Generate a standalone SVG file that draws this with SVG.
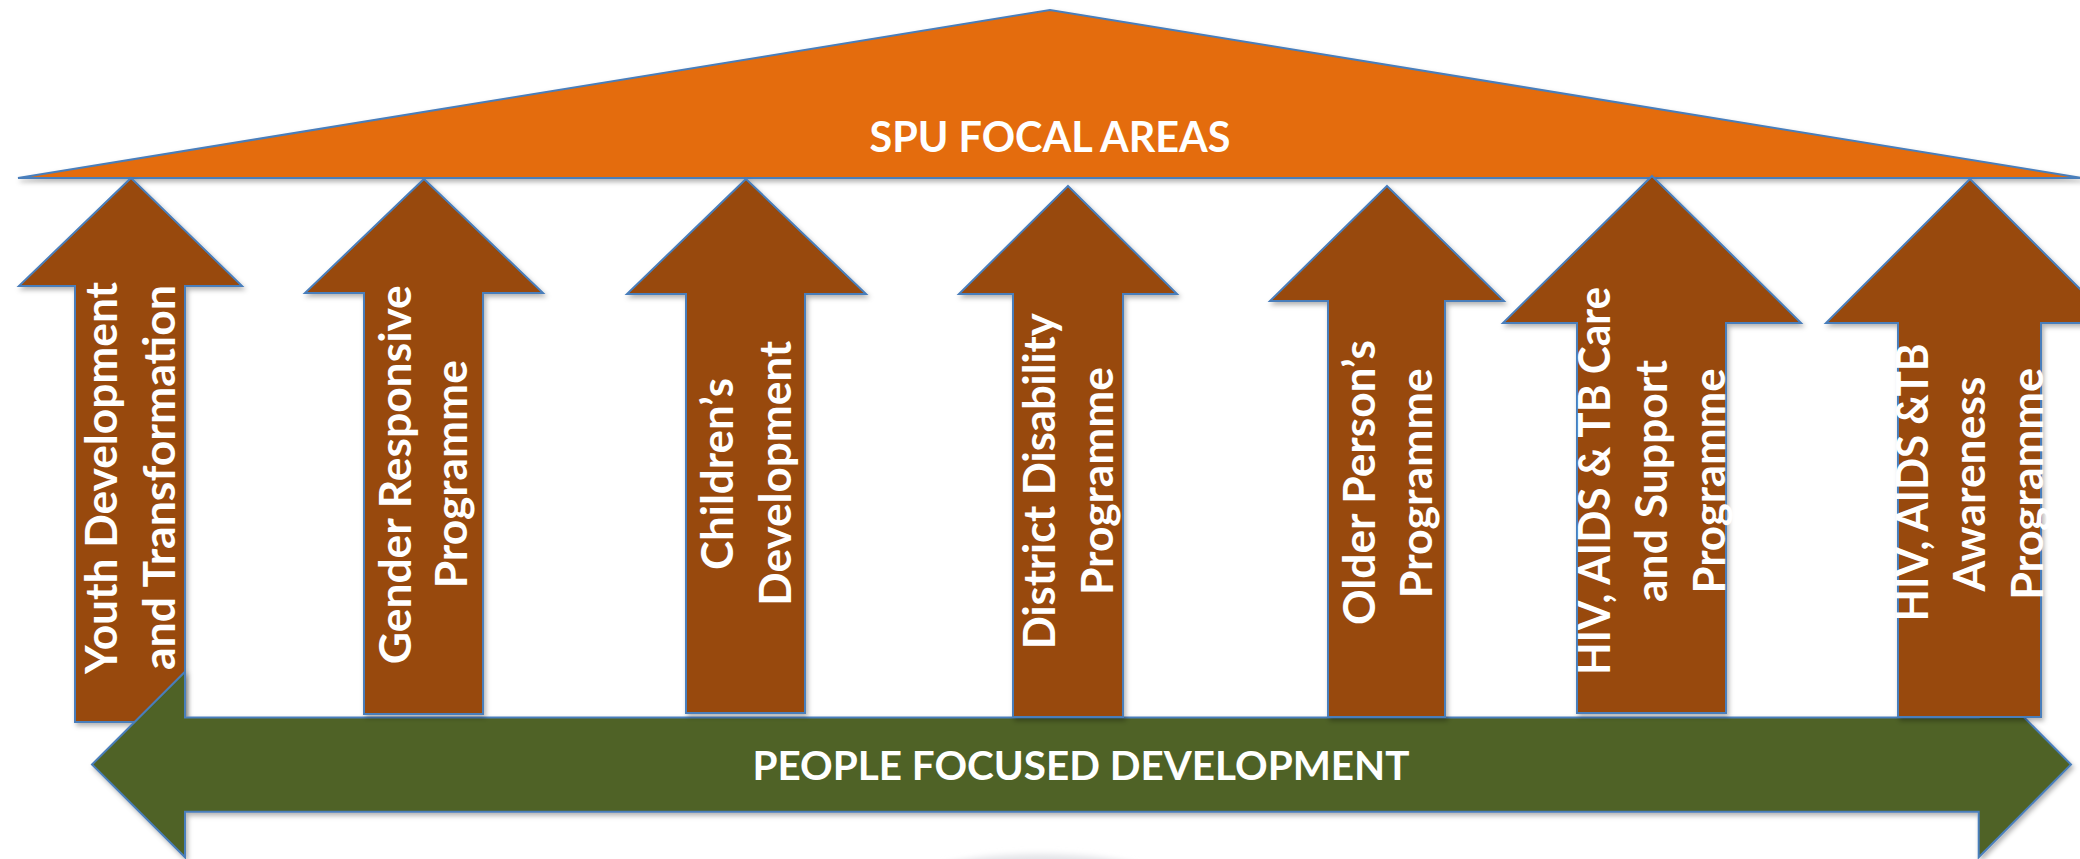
<svg xmlns="http://www.w3.org/2000/svg" width="2080" height="859" viewBox="0 0 2080 859">
<defs>
<filter id="shadow" x="-10%" y="-10%" width="130%" height="130%">
<feDropShadow dx="2" dy="3" stdDeviation="2.5" flood-color="#000" flood-opacity="0.3"/>
</filter>
<filter id="blur" x="-20%" y="-50%" width="140%" height="200%">
<feGaussianBlur stdDeviation="3"/>
</filter>
<style>
.arrow{fill:#984807;stroke:#4A7EBB;stroke-width:2;stroke-linejoin:miter;filter:url(#shadow)}
.roof{fill:#E46C0A;stroke:#4A7EBB;stroke-width:2;filter:url(#shadow)}
.base{fill:#4F6228;stroke:#4A7EBB;stroke-width:2;filter:url(#shadow)}
.lbl{font-family:Lato,"Liberation Sans",sans-serif;font-weight:700;fill:#ffffff;font-size:43px;text-anchor:middle}
.title{font-family:Lato,"Liberation Sans",sans-serif;font-weight:700;fill:#ffffff;text-anchor:middle}
</style>
</defs>
<rect x="0" y="0" width="2080" height="859" fill="#ffffff"/>
<ellipse cx="1040" cy="888" rx="135" ry="34" fill="#e3e4e8" filter="url(#blur)"/>

<g id="spu-focal-areas">
<path class="roof" d="M18,178 L1050,10 L2082,178 Z"/>
<text class="title" x="1050" y="152" font-size="42" textLength="361" lengthAdjust="spacingAndGlyphs">SPU FOCAL AREAS</text>
</g>

<g id="youth-development">
<path class="arrow" d="M131,178 L242,286 L185,286 L185,722 L75,722 L75,286 L19,286 Z"/>
<text class="lbl" transform="translate(117.3,478) rotate(-90)" textLength="392" lengthAdjust="spacingAndGlyphs">Youth Development</text>
<text class="lbl" transform="translate(175,477.5) rotate(-90)" textLength="385" lengthAdjust="spacingAndGlyphs">and Transformation</text>
</g>

<g id="people-focused-development">
<path class="base" d="M92,764.5 L185,671.7 L185,717.5 L1978.7,717.5 L1978.7,671.7 L2071,764.5 L1978.7,857.3 L1978.7,811.7 L185,811.7 L185,857.3 Z"/>
<text class="title" x="1081" y="780" font-size="40" textLength="657" lengthAdjust="spacingAndGlyphs">PEOPLE FOCUSED DEVELOPMENT</text>
</g>

<g id="gender-responsive">
<path class="arrow" d="M424,179 L543,293 L483,293 L483,714 L364,714 L364,293 L305,293 Z"/>
<text class="lbl" transform="translate(410.5,474.7) rotate(-90)" textLength="379" lengthAdjust="spacingAndGlyphs">Gender Responsive</text>
<text class="lbl" transform="translate(467.3,474.2) rotate(-90)" textLength="228" lengthAdjust="spacingAndGlyphs">Programme</text>
</g>

<g id="childrens-development">
<path class="arrow" d="M746,179 L866,294 L805,294 L805,713 L686,713 L686,294 L627,294 Z"/>
<text class="lbl" transform="translate(732.7,474) rotate(-90)" textLength="192" lengthAdjust="spacingAndGlyphs">Children’s</text>
<text class="lbl" transform="translate(790.7,473.3) rotate(-90)" textLength="265" lengthAdjust="spacingAndGlyphs">Development</text>
</g>

<g id="district-disability">
<path class="arrow" d="M1068,186 L1177,294 L1123,294 L1123,717 L1013,717 L1013,294 L959,294 Z"/>
<text class="lbl" transform="translate(1055,481.3) rotate(-90)" textLength="336" lengthAdjust="spacingAndGlyphs">District Disability</text>
<text class="lbl" transform="translate(1113.3,481) rotate(-90)" textLength="228" lengthAdjust="spacingAndGlyphs">Programme</text>
</g>

<g id="older-persons">
<path class="arrow" d="M1387,186 L1504,301 L1445,301 L1445,717 L1328,717 L1328,301 L1270,301 Z"/>
<text class="lbl" transform="translate(1375,482.5) rotate(-90)" textLength="285" lengthAdjust="spacingAndGlyphs">Older Person’s</text>
<text class="lbl" transform="translate(1431.7,483.3) rotate(-90)" textLength="230" lengthAdjust="spacingAndGlyphs">Programme</text>
</g>

<g id="hiv-aids-tb-care">
<path class="arrow" d="M1652,176 L1801,323 L1726,323 L1726,713 L1577,713 L1577,323 L1503,323 Z"/>
<text class="lbl" transform="translate(1610,481) rotate(-90)" textLength="388" lengthAdjust="spacingAndGlyphs">HIV, AIDS &amp; TB Care</text>
<text class="lbl" transform="translate(1667.3,481) rotate(-90)" textLength="242" lengthAdjust="spacingAndGlyphs">and Support</text>
<text class="lbl" transform="translate(1725,481) rotate(-90)" textLength="225" lengthAdjust="spacingAndGlyphs">Programme</text>
</g>

<g id="hiv-aids-tb-awareness">
<path class="arrow" d="M1970,179 L2114,323 L2041,323 L2041,717 L1898,717 L1898,323 L1826,323 Z"/>
<text class="lbl" transform="translate(1927.7,482.5) rotate(-90)" textLength="278" lengthAdjust="spacingAndGlyphs">HIV, AIDS &amp;TB</text>
<text class="lbl" transform="translate(1985,484) rotate(-90)" textLength="215" lengthAdjust="spacingAndGlyphs">Awareness</text>
<text class="lbl" transform="translate(2043.3,484) rotate(-90)" textLength="232" lengthAdjust="spacingAndGlyphs">Programme</text>
</g>

<g id="connectors"></g>
</svg>
